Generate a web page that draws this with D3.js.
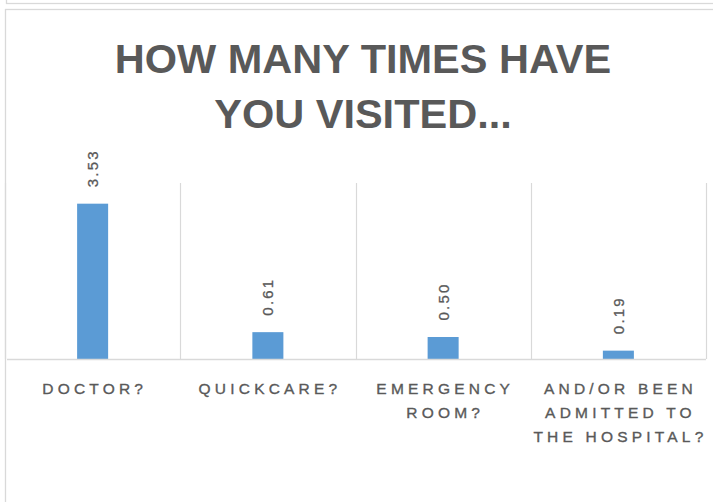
<!DOCTYPE html>
<html>
<head>
<meta charset="utf-8">
<script src="https://cdn.jsdelivr.net/npm/d3@7"></script>
<style>
  html, body { margin: 0; padding: 0; background: #fff; }
  svg { display: block; }
</style>
</head>
<body>
<svg id="chart" width="713" height="502"></svg>
<script>
// Survey answers: average number of visits per place
const categories = ["DOCTOR?", "QUICKCARE?", "EMERGENCY ROOM?", "AND/OR BEEN ADMITTED TO THE HOSPITAL?"];
const categoryLines = [["DOCTOR?"], ["QUICKCARE?"], ["EMERGENCY", "ROOM?"], ["AND/OR BEEN", "ADMITTED TO", "THE HOSPITAL?"]];
const values = [3.53, 0.61, 0.50, 0.19];
const valueLabels = ["3.53", "0.61", "0.50", "0.19"];
const titleLines = ["HOW MANY TIMES HAVE", "YOU VISITED..."];
const yMax = 4;

const svg = d3.select("#chart");
const W = 713, H = 502;

const plot = { left: 5, right: 706, top: 183, bottom: 359 };
const grey = "#d9d9d9";
const textGrey = "#595959";

// Frame of the chart above (only its bottom edge is in view)
svg.append("rect")
  .attr("x", 6.5).attr("y", -20).attr("width", W + 20).attr("height", 23.5)
  .attr("fill", "none").attr("stroke", grey).attr("stroke-width", 1.3);

// Frame of this chart
svg.append("rect")
  .attr("x", 5.5).attr("y", 9.5).attr("width", W + 20).attr("height", H + 20)
  .attr("fill", "#fff").attr("stroke", grey).attr("stroke-width", 1.3);

// Title
const title = svg.append("text")
  .attr("x", 363).attr("text-anchor", "middle")
  .style("font-family", "'Liberation Sans', Arial, sans-serif")
  .style("font-weight", "bold")
  .style("font-size", "41.5px")
  .attr("fill", textGrey);
title.selectAll("tspan").data(titleLines).join("tspan")
  .attr("x", 363)
  .attr("y", (d, i) => 73 + i * 55)
  .text(d => d);

// Scales
const pad = 0.823;
const x = d3.scaleBand()
  .domain(categories)
  .range([plot.left, plot.right])
  .paddingInner(pad)
  .paddingOuter(pad / 2);
const y = d3.scaleLinear().domain([0, yMax]).range([plot.bottom, plot.top]);

const step = x.step();
const boundaries = categories.map(c => x(c) + x.bandwidth() / 2 - step / 2)
  .concat([x(categories[categories.length - 1]) + x.bandwidth() / 2 + step / 2]);

// Category separators
svg.append("g").selectAll("line").data(boundaries).join("line")
  .attr("x1", d => Math.round(d) + 0.5).attr("x2", d => Math.round(d) + 0.5)
  .attr("y1", y(yMax)).attr("y2", y(0))
  .attr("stroke", grey).attr("stroke-width", 1.2);

// Bars
svg.append("g").selectAll("rect").data(values).join("rect")
  .attr("x", (d, i) => x(categories[i]))
  .attr("width", x.bandwidth())
  .attr("y", d => y(d))
  .attr("height", d => y(0) - y(d))
  .attr("fill", "#5b9bd5");

// Baseline
svg.append("line")
  .attr("x1", plot.left + 2).attr("x2", plot.right)
  .attr("y1", y(0) + 0.5).attr("y2", y(0) + 0.5)
  .attr("stroke", grey).attr("stroke-width", 1.5);

// Value labels, rotated, above each bar
const vSpacing = 2.2;
svg.append("g").selectAll("text").data(values).join("text")
  .attr("transform", (d, i) => {
    const cx = x(categories[i]) + x.bandwidth() / 2;
    return `translate(${cx},${y(d) - 16.5}) rotate(-90)`;
  })
  .attr("text-anchor", "start")
  .attr("dominant-baseline", "central")
  .style("font-family", "'Liberation Sans', Arial, sans-serif")
  .style("font-size", "15px")
  .style("letter-spacing", vSpacing + "px")
  .attr("fill", textGrey)
  .attr("stroke", textGrey).attr("stroke-width", 0.3)
  .text((d, i) => valueLabels[i]);

// Category labels
const cSpacing = 4.2;
const catG = svg.append("g")
  .style("font-family", "'Liberation Sans', Arial, sans-serif")
  .style("font-size", "15.5px")
  .style("letter-spacing", cSpacing + "px")
  .attr("fill", textGrey)
  .attr("stroke", textGrey).attr("stroke-width", 0.35);
categories.forEach((c, i) => {
  const cx = x(c) + x.bandwidth() / 2 + cSpacing / 2;
  const t = catG.append("text").attr("text-anchor", "middle");
  t.selectAll("tspan").data(categoryLines[i]).join("tspan")
    .attr("x", cx)
    .attr("y", (d, j) => 393.5 + j * 24.3)
    .text(d => d);
});
</script>
</body>
</html>
